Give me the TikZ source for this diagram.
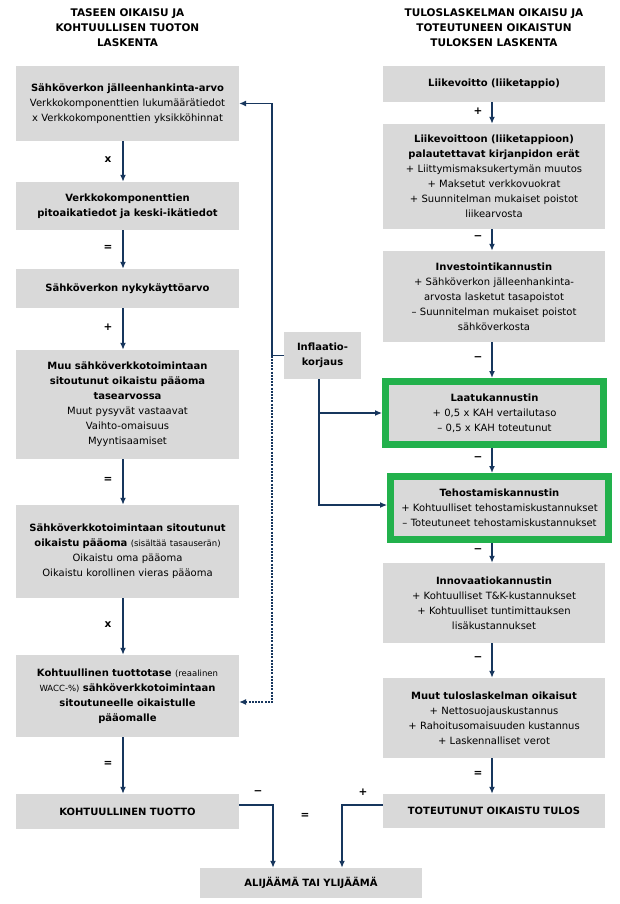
\documentclass[tikz,border=0pt]{standalone}
\usepackage{fontspec}
\setmainfont{DejaVu Sans}
\usetikzlibrary{arrows.meta}
\definecolor{boxgray}{RGB}{217,217,217}
\definecolor{flowblue}{RGB}{23,54,93}
\definecolor{kannusgreen}{RGB}{34,177,76}
\newcommand{\smallnote}[1]{{\fontsize{8.5}{15}\selectfont #1}}

\begin{document}
\begin{tikzpicture}[x=1pt, y=-1pt,
    box/.style={fill=boxgray, minimum width=223pt, text width=215pt, align=center, inner sep=3pt, font=\fontsize{10}{15}\selectfont},
    greenbox/.style={box, draw=kannusgreen, line width=7pt, minimum width=218pt, minimum height=63pt, text width=205pt},
    heading/.style={align=center, font=\fontsize{10.5}{15}\selectfont\bfseries},
    flow/.style={draw=flowblue, line width=1.6pt, -{Latex[length=7pt,width=6pt]}},
    link/.style={draw=flowblue, line width=1.1pt},
    linkarrow/.style={link, -{Latex[length=7pt,width=6pt]}},
    dotlink/.style={linkarrow, dash pattern=on 2pt off 1.2pt},
    op/.style={font=\fontsize{10.5}{12}\selectfont\bfseries}]
    \useasboundingbox (0,0) rectangle (619,904);
    % Draw column headings
    \node[heading] (headL) at (127.5,28) {TASEEN OIKAISU JA\\ KOHTUULLISEN TUOTON\\ LASKENTA};
    \node[heading] (headR) at (494,28) {TULOSLASKELMAN OIKAISU JA\\ TOTEUTUNEEN OIKAISTUN\\ TULOKSEN LASKENTA};
    % Draw left column
    \node[box, minimum height=75pt] (L1) at (127.5,103.5) {\textbf{Sähköverkon jälleenhankinta-arvo}\\ Verkkokomponenttien lukumäärätiedot\\ x Verkkokomponenttien yksikköhinnat};
    \node[box, minimum height=48pt] (L2) at (127.5,206) {\textbf{Verkkokomponenttien\\ pitoaikatiedot ja keski-ikätiedot}};
    \node[box, minimum height=39pt] (L3) at (127.5,288.5) {\textbf{Sähköverkon nykykäyttöarvo}};
    \node[box, minimum height=109pt] (L4) at (127.5,404.5) {\textbf{Muu sähköverkkotoimintaan\\ sitoutunut oikaistu pääoma\\ tasearvossa}\\ Muut pysyvät vastaavat\\ Vaihto-omaisuus\\ Myyntisaamiset};
    \node[box, minimum height=93pt] (L5) at (127.5,551.5) {\textbf{Sähköverkkotoimintaan sitoutunut\\ oikaistu pääoma} \smallnote{(sisältää tasauserän)}\\ Oikaistu oma pääoma\\ Oikaistu korollinen vieras pääoma};
    \node[box, minimum height=82pt] (L6) at (127.5,696) {\textbf{Kohtuullinen tuottotase} \smallnote{(reaalinen}\\ \smallnote{WACC-\%)} \textbf{sähköverkkotoimintaan\\ sitoutuneelle oikaistulle\\ pääomalle}};
    \node[box, minimum height=35pt] (L7) at (127.5,811.5) {\textbf{KOHTUULLINEN TUOTTO}};
    % Draw right column
    \node[box, minimum width=222pt, minimum height=36pt] (R1) at (494,84) {\textbf{Liikevoitto (liiketappio)}};
    \node[box, minimum width=222pt, minimum height=105pt] (R2) at (494,176.5) {\textbf{Liikevoittoon (liiketappioon)\\ palautettavat kirjanpidon erät}\\ + Liittymismaksukertymän muutos\\ + Maksetut verkkovuokrat\\ + Suunnitelman mukaiset poistot\\ liikearvosta};
    \node[box, minimum width=222pt, minimum height=91pt] (R3) at (494,296.5) {\textbf{Investointikannustin}\\ + Sähköverkon jälleenhankinta-\\ arvosta lasketut tasapoistot\\ – Suunnitelman mukaiset poistot\\ sähköverkosta};
    \node[greenbox] (R4) at (494.5,413) {\textbf{Laatukannustin}\\ + 0,5 x KAH vertailutaso\\ – 0,5 x KAH toteutunut};
    \node[greenbox] (R5) at (499.5,508) {\textbf{Tehostamiskannustin}\\ + Kohtuulliset tehostamiskustannukset\\ – Toteutuneet tehostamiskustannukset};
    \node[box, minimum width=222pt, minimum height=80pt] (R6) at (494,603) {\textbf{Innovaatiokannustin}\\ + Kohtuulliset T\&K-kustannukset\\ + Kohtuulliset tuntimittauksen\\ lisäkustannukset};
    \node[box, minimum width=222pt, minimum height=80pt] (R7) at (494,718) {\textbf{Muut tuloslaskelman oikaisut}\\ + Nettosuojauskustannus\\ + Rahoitusomaisuuden kustannus\\ + Laskennalliset verot};
    \node[box, minimum width=222pt, minimum height=34pt] (R8) at (494,811) {\textbf{TOTEUTUNUT OIKAISTU TULOS}};
    % Draw inflation box and result box
    \node[box, minimum width=77pt, minimum height=47pt, text width=70pt] (Infl) at (322.5,355.5) {\textbf{Inflaatio-\\ korjaus}};
    \node[box, minimum width=222pt, minimum height=30pt] (ALI) at (311,883) {\textbf{ALIJÄÄMÄ TAI YLIJÄÄMÄ}};
    % Draw column arrows
    \coordinate (colL) at (123,0);
    \coordinate (colR) at (492,0);
    \foreach \a/\b/\o in {L1/L2/x, L2/L3/=, L3/L4/+, L4/L5/=, L5/L6/x, L6/L7/=}
        \draw[flow] (\a.south -| colL) -- node[op, midway, xshift=-15pt, yshift=2pt] {\o} (\b.north -| colL);
    \foreach \a/\b/\o in {R1/R2/+, R2/R3/−, R3/R4/−, R4/R5/−, R5/R6/−, R6/R7/−, R7/R8/=}
        \draw[flow] (\a.south -| colR) -- node[op, midway, xshift=-14pt, yshift=2pt] {\o} (\b.north -| colR);
    % Draw inflation links
    \coordinate (jL) at (272,0);
    \coordinate (jR) at (319,0);
    \draw[link] (Infl.west) -- (Infl.west -| jL);
    \draw[linkarrow] (Infl.west -| jL) |- (L1.east);
    \draw[dotlink] (Infl.west -| jL) |- ([yshift=-6pt]L6.east);
    \draw[linkarrow] (Infl.south -| jR) |- ([yshift=3pt]R5.west);
    \draw[linkarrow] (jR |- R4.west) -- (R4.west);
    % Draw result arrows
    \draw[flow] ([yshift=6.5pt]L7.east) -| ([xshift=-38pt]ALI.north);
    \draw[flow] ([yshift=6pt]R8.west) -| ([xshift=31pt]ALI.north);
    \node[op] (minusmark) at (258,793) {−};
    \node[op] (plusmark) at (363,792) {+};
    \node[op] (eqmark) at (305,816) {=};
\end{tikzpicture}
\end{document}
